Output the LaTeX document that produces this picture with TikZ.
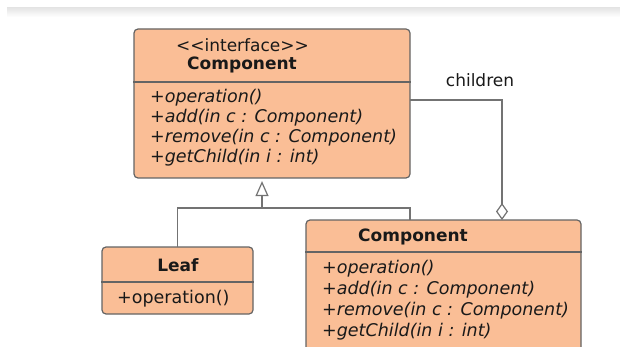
\documentclass[tikz,border=0pt]{standalone}
\usepackage{fontspec}
\setmainfont{DejaVu Sans}
\usetikzlibrary{arrows.meta}
\definecolor{classfill}{RGB}{250,190,150}
\definecolor{classedge}{RGB}{100,100,100}
\definecolor{linkgray}{RGB}{115,115,115}
\definecolor{inkdark}{RGB}{25,25,25}
% guillemet-free angle brackets
\newcommand{\lguil}{<\kern0pt<}
\newcommand{\rguil}{>\kern0pt>}
\begin{document}
\begin{tikzpicture}[x=1pt,y=-1pt,
  classbox/.style={draw=classedge,fill=classfill,line width=1.2pt,rounded corners=4pt,
    minimum width=#1,inner sep=0pt},
  divider/.style={draw=classedge,line width=1.2pt},
  title/.style={font=\fontsize{17}{19}\selectfont\bfseries,text=inkdark,inner sep=0pt},
  stereo/.style={font=\fontsize{17}{19}\selectfont,text=inkdark,inner sep=0pt},
  member/.style={font=\fontsize{17.5}{19}\selectfont\itshape,text=inkdark,inner sep=0pt,anchor=base west},
  plainmember/.style={font=\fontsize{17.5}{19}\selectfont,text=inkdark,inner sep=0pt,anchor=base west},
  link/.style={draw=linkgray,line width=1.2pt},
]
\useasboundingbox (0,0) rectangle (620,347);
\clip (0,0) rectangle (620,347);
% faint band along the top edge
\shade[top color=black!10,bottom color=white] (7,8) rectangle (620,17);

% interface Component
\node[classbox=276pt,minimum height=149pt] (iface) at (272,103.5) {};
\draw[divider] (iface.west |- 0,82) -- (iface.east |- 0,82);
\node[stereo] (istereo) at (242.5,45) {\lguil interface\rguil};
\node[title] (ititle) at (242,65) {Component};
\node[member] (im1) at (150,103) {+operation()};
\node[member] (im2) at (150,123) {+add(in c : Component)};
\node[member] (im3) at (150,143) {+remove(in c : Component)};
\node[member] (im4) at (150,163) {+getChild(in i : int)};

% Leaf
\node[classbox=151pt,minimum height=67pt] (leaf) at (177.5,280.5) {};
\draw[divider] (leaf.west |- 0,282) -- (leaf.east |- 0,282);
\node[title] (ltitle) at (178,265) {Leaf};
\node[plainmember] (lm1) at (117,303.5) {+operation()};

% composite Component
\node[classbox=275pt,minimum height=140pt] (comp) at (443.5,290) {};
\draw[divider] (comp.west |- 0,252) -- (comp.east |- 0,252);
\node[title] (ctitle) at (413,237) {Component};
\node[member] (cm1) at (322,273) {+operation()};
\node[member] (cm2) at (322,294) {+add(in c : Component)};
\node[member] (cm3) at (322,315) {+remove(in c : Component)};
\node[member] (cm4) at (322,336) {+getChild(in i : int)};

% generalization
\coordinate (gjoin) at (262,208);
\coordinate (leafin) at (177.5,247);
\coordinate (compin) at (410,220);
\draw[link] (leafin) |- (gjoin) -| (compin);
\draw[link,-{Triangle[open,length=15pt,width=13pt,line width=1.2pt]},shorten >=2.5pt]
  (gjoin) -- (gjoin |- iface.south);

% aggregation
\coordinate (aggend) at (502,220);
\coordinate (aggstart) at (410,100);
\draw[link,{Diamond[open,length=17pt,width=12pt,line width=1.2pt]}-] (aggend) |- (aggstart);
\node[stereo] (children) at (480,80) {children};
\end{tikzpicture}
\end{document}
